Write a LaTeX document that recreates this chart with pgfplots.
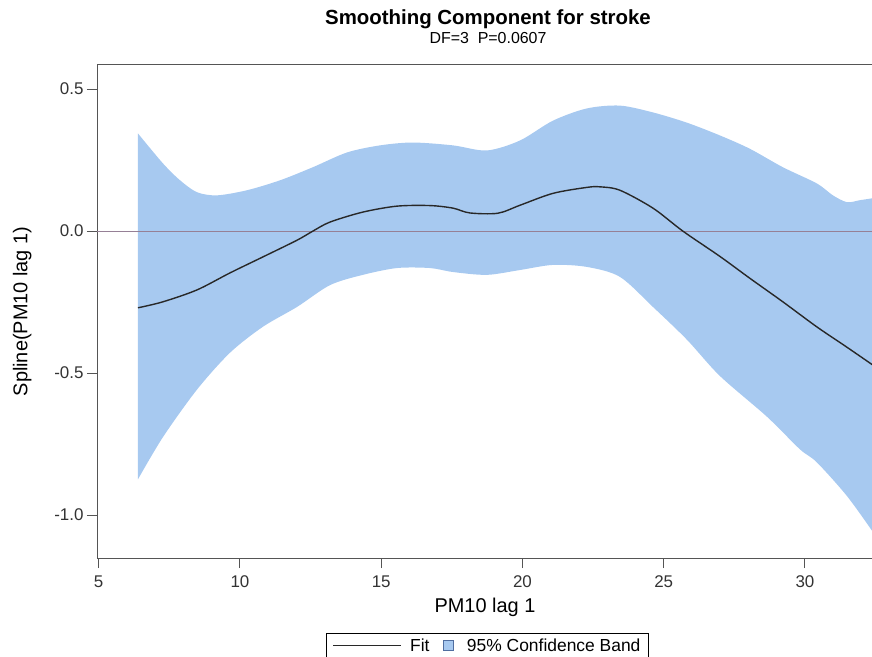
\documentclass[border=0pt]{standalone}
\usepackage{pgfplots}
\pgfplotsset{compat=1.18}
\usepgfplotslibrary{fillbetween}
\usepackage{fontspec}
\setmainfont{Liberation Sans}
\definecolor{band}{RGB}{167,201,240}
\definecolor{bandedge}{RGB}{80,110,160}
\definecolor{refline}{RGB}{150,128,150}
\definecolor{spine}{RGB}{85,85,85}
\definecolor{fitc}{RGB}{40,40,40}

\pgfplotstableread{
x y
6.39 -0.270
7.27 -0.249
8.48 -0.207
9.65 -0.147
10.81 -0.091
12.02 -0.032
12.58 0.000
13.19 0.032
14.35 0.067
15.56 0.088
16.73 0.090
17.54 0.081
18.14 0.064
19.13 0.063
19.91 0.091
21.08 0.133
22.28 0.154
22.74 0.156
23.45 0.144
24.62 0.081
25.68 0.000
26.99 -0.089
28.05 -0.166
29.22 -0.249
30.42 -0.337
31.49 -0.409
32.41 -0.472
}\fittab

\pgfplotstableread{
x y
6.39 0.344
7.27 0.239
7.88 0.179
8.48 0.137
9.19 0.126
10.25 0.144
11.42 0.179
12.58 0.225
13.79 0.277
14.96 0.302
16.12 0.312
17.54 0.302
18.74 0.284
19.91 0.319
21.08 0.389
22.28 0.432
23.45 0.442
24.62 0.418
25.82 0.382
26.99 0.337
28.05 0.290
29.22 0.225
30.42 0.168
30.99 0.126
31.49 0.102
31.95 0.109
32.41 0.116
}\uptab

\pgfplotstableread{
x y
6.39 -0.874
7.27 -0.726
8.48 -0.558
9.65 -0.428
10.81 -0.337
12.02 -0.267
13.19 -0.190
14.35 -0.154
15.56 -0.130
16.73 -0.130
17.54 -0.144
18.74 -0.154
19.91 -0.137
21.08 -0.119
22.28 -0.126
23.45 -0.161
24.62 -0.267
25.82 -0.382
26.99 -0.510
28.65 -0.653
29.82 -0.768
30.42 -0.814
31.49 -0.933
32.41 -1.060
}\lowtab

\pgfplotsset{
 fitlegend/.style={legend image code/.code={\draw[fitc, line width=1.4bp] (0bp,0bp) -- (68bp,0bp); \path[draw=none,fill=none] (0bp,0bp) -- (75bp,0bp);}},
 bandlegend/.style={legend image code/.code={\draw[fill=band, draw=bandedge, line width=0.8bp] (0bp,-5bp) rectangle (10bp,5bp); \path[draw=none,fill=none] (0bp,0bp) -- (22bp,0bp);}},
}

\begin{document}
\begin{tikzpicture}
\begin{axis}[name=ax, scale only axis, width=776bp, height=493bp,
 xmin=4.94, xmax=32.41, ymin=-1.151, ymax=0.585,
 xtick={5,10,...,30}, ytick={-1,-0.5,0,0.5},
 yticklabel style={/pgf/number format/.cd, fixed, fixed zerofill, precision=1},
 /pgf/number format/assume math mode=true,
 tick align=outside, xtick pos=left, ytick pos=left,
 major tick length=10bp,
 tick style={spine, line width=1bp},
 axis line style={spine, line width=1bp},
 ticklabel style={font=\fontsize{17}{20}\selectfont, text=black!80},
 xticklabel style={yshift=-4bp},
 xlabel={PM10 lag 1}, ylabel={Spline(PM10 lag 1)},
 label style={font=\fontsize{20}{24}\selectfont},
 xlabel style={yshift=-4bp},
 ylabel style={yshift=16bp},
 title={Smoothing Component for stroke\\[-5bp]{\fontsize{16}{19}\mdseries\selectfont DF=3\ \ P=0.0607}},
 title style={font=\fontsize{20.5}{24}\selectfont\bfseries, align=center, yshift=12bp, xshift=3bp},
 legend style={at={(0.5,0)}, anchor=north, xshift=2.5bp, yshift=-75bp, legend columns=2,
   draw=black, line width=0.8bp, font=\fontsize{17.5}{21}\selectfont,
   inner xsep=6bp, inner ysep=3bp,
   /tikz/every even column/.append style={column sep=11bp}},
]
\addplot[name path=up, draw=none, forget plot, smooth] table[x=x,y=y] {\uptab};
\addplot[name path=lo, draw=none, forget plot, smooth] table[x=x,y=y] {\lowtab};
\addplot[band, forget plot] fill between[of=up and lo];
\addplot[refline, line width=1bp, forget plot] coordinates {(4.94,0) (32.41,0)};
\addplot[fitc, line width=1.4bp, smooth, fitlegend] table[x=x,y=y] {\fittab};
\addlegendentry{Fit}
\addlegendimage{bandlegend}
\addlegendentry{95\% Confidence Band}
\end{axis}
\pgfresetboundingbox
\path ([xshift=-97bp,yshift=-99bp]ax.south west) rectangle ([xshift=-1bp,yshift=65bp]ax.north east);
\end{tikzpicture}
\end{document}
